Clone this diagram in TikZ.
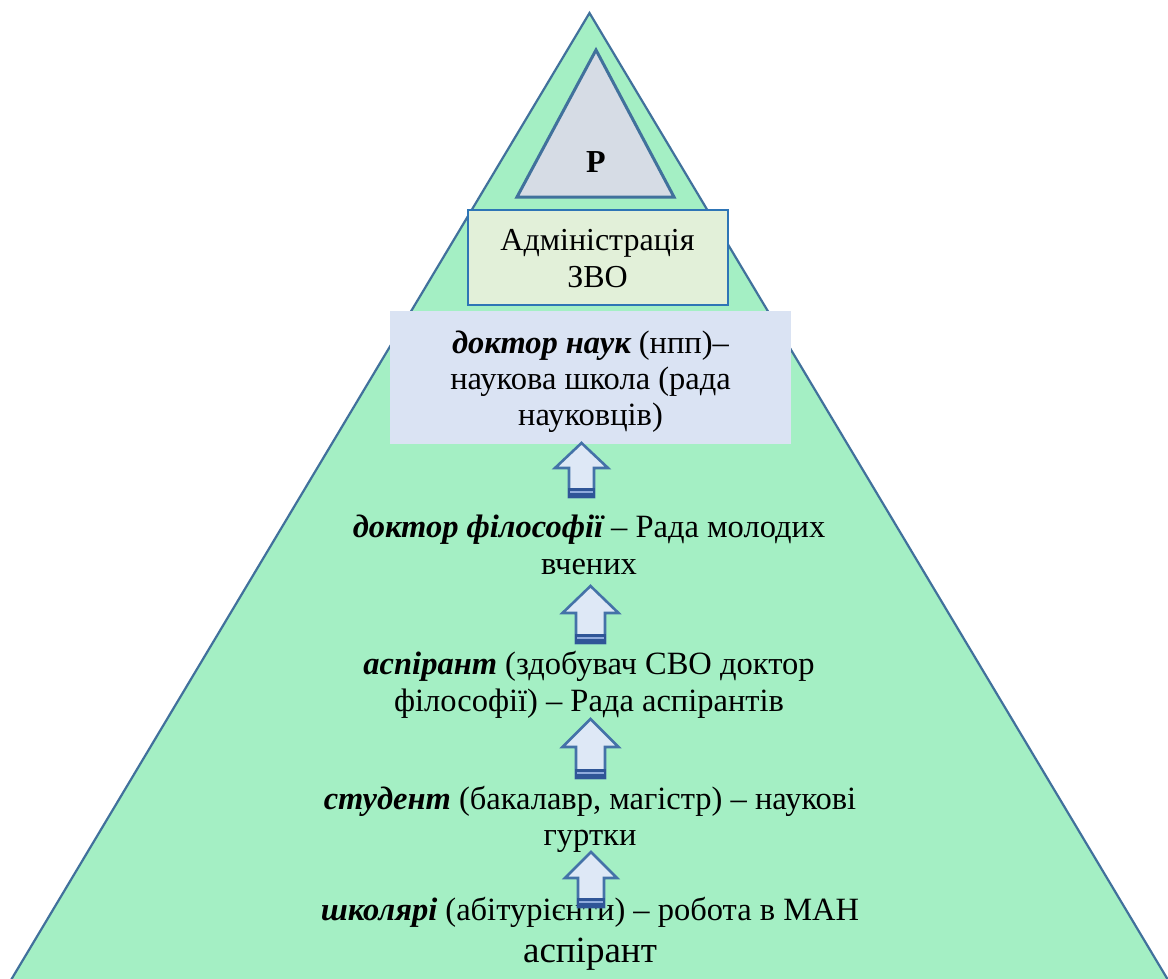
\documentclass[tikz,border=0pt]{standalone}
\usepackage{fontspec}
\setmainfont{Liberation Serif}
\definecolor{pyrfill}{HTML}{A4EFC4}
\definecolor{pyrline}{HTML}{41719C}
\definecolor{topfill}{HTML}{D6DCE5}
\definecolor{adminfill}{HTML}{E2F0D9}
\definecolor{adminline}{HTML}{2E75B6}
\definecolor{boxfill}{HTML}{DAE3F3}
\definecolor{arrfill}{HTML}{DEE8F6}
\definecolor{arrline}{HTML}{4472A8}
\definecolor{arrdark}{HTML}{2F5597}
\definecolor{arrlight}{HTML}{8FAADC}
\tikzset{
  pyramid/.style={fill=pyrfill, draw=pyrline, line width=2.2pt, line join=miter},
  toptri/.style={fill=topfill, draw=pyrline, line width=3pt, line join=miter},
  adminbox/.style={fill=adminfill, draw=adminline, line width=2.5pt, inner sep=0},
  scibox/.style={fill=boxfill, inner sep=0},
  arrowbody/.style={fill=arrfill, draw=arrline, line width=2.6pt, line join=miter},
  lbl/.style={anchor=base, inner sep=0, font=\fontsize{32.5}{38}\selectfont},
  biglbl/.style={anchor=base, inner sep=0, font=\fontsize{37}{44}\selectfont}
}
\newcommand{\bi}[1]{{\bfseries\itshape #1}}
\newcommand{\blockarrow}[6]{%
  \draw[arrowbody] (#1,#2) -- (#1+#5,#3) -- (#1+#6,#3) -- (#1+#6,#4) -- (#1-#6,#4) -- (#1-#6,#3) -- (#1-#5,#3) -- cycle;
  \fill[arrdark] (#1-#6-1.3,#4-9) rectangle (#1+#6+1.3,#4+1.3);
  \draw[arrlight, line width=1.2pt] (#1-#6+1,#4-5) -- (#1+#6-1,#4-5);
}
\begin{document}
\begin{tikzpicture}[x=1pt,y=-1pt]
\useasboundingbox (0,0) rectangle (1168,978);
\fill[white] (0,0) rectangle (1168,978);

% big pyramid
\draw[pyramid] (589.5,13) -- (1174,990) -- (5,990) -- cycle;

% top triangle
\draw[toptri] (596,50) -- (674,197) -- (517,197) -- cycle;
\node[lbl, font=\fontsize{32}{38}\selectfont\bfseries] (rector) at (596,172) {Р};

% administration box
\node[adminbox, minimum width=260pt, minimum height=95pt] (admin) at (598,257.5) {};
\node[lbl, font=\fontsize{32}{38}\selectfont] (admin1) at (597.5,250) {Адміністрація};
\node[lbl, font=\fontsize{32}{38}\selectfont] (admin2) at (597.5,287) {ЗВО};

% science box
\node[scibox, minimum width=401pt, minimum height=133pt] (sci) at (590.5,377.5) {};
\node[lbl] (sci1) at (590.5,353) {\bi{доктор наук} (нпп)–};
\node[lbl] (sci2) at (590.5,389) {наукова школа (рада};
\node[lbl] (sci3) at (590.5,425) {науковців)};

% arrows 1-3
\blockarrow{581.5}{443}{468}{497}{26.5}{12.5}
\blockarrow{590.5}{586}{613}{643}{28}{14.5}
\blockarrow{590.5}{719}{747}{778}{28}{14.5}

% levels
\node[lbl] (phd1) at (589,537) {\bi{доктор філософії} – Рада молодих};
\node[lbl] (phd2) at (589,574) {вчених};
\node[lbl] (asp1) at (589,674) {\bi{аспірант} (здобувач СВО доктор};
\node[lbl] (asp2) at (589,711) {філософії) – Рада аспірантів};
\node[lbl] (stu1) at (590,809) {\bi{студент} (бакалавр, магістр) – наукові};
\node[lbl] (stu2) at (590,845) {гуртки};
\node[lbl] (sch1) at (590,920) {\bi{школярі} (абітурієнти) – робота в МАН};
\node[biglbl] (sch2) at (590,962) {аспірант};

% arrow 4 (over the text)
\blockarrow{591}{852}{878}{907}{26}{13}
\end{tikzpicture}
\end{document}
